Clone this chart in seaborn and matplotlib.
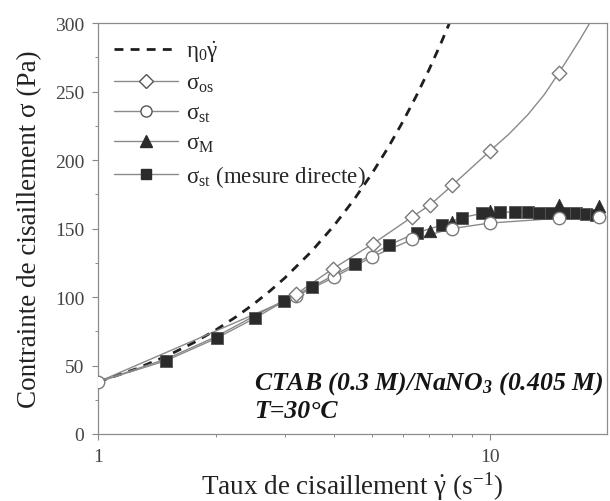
import numpy as np
import pandas as pd
import matplotlib
matplotlib.use("Agg")
import matplotlib.pyplot as plt
from matplotlib.lines import Line2D
from matplotlib.ticker import MultipleLocator, LogLocator, NullFormatter, FixedLocator
import seaborn as sns

# --- data ---
# eta0 * gamma_dot (Newtonian line, eta0 ~ 38 Pa.s)
newt_rate = [1, 1.25, 1.5, 1.75, 2, 2.25, 2.5, 2.75, 3, 3.5, 4, 4.5, 5, 5.5, 6, 6.5, 7, 7.5, 8]
newt_stress = [38, 47.5, 57, 66.5, 76, 85.5, 95, 104.5, 114, 133, 152, 171, 190, 209, 228, 247, 266, 285, 304]

# sigma_os (open diamonds) + smooth curve continuing to the top
os_rate = [3.2, 3.97, 5.04, 6.34, 7.06, 8.02, 10.0, 15.0]
os_stress = [102, 120.5, 139, 158.5, 167.5, 181.5, 206.5, 263.5]
os_curve_rate = [1, 1.5, 2, 2.5, 3.2, 3.97, 5.04, 6.34, 7.06, 8.02, 10.0, 11.2, 12.5, 13.8, 15.0, 16.0, 17.0, 18.0]
os_curve_stress = [38, 55, 71, 86, 102, 120.5, 139, 158.5, 167.5, 181.5, 206.5, 219, 233, 248, 263.5, 276, 288, 300]

# sigma_st (open circles)
st_rate = [1, 3.2, 4.01, 5.02, 6.34, 8.02, 10.0, 15.0, 19.0]
st_stress = [38, 100.5, 114.5, 129.5, 142, 150, 154, 157.5, 158.5]

# sigma_M (filled triangles)
m_rate = [7.03, 8.02, 10.0, 15.0, 19.0]
m_stress = [148, 155, 162.5, 167, 166.5]

# sigma_st, direct measurement (filled squares)
dir_rate = [1.49, 2.01, 2.51, 2.99, 3.52, 4.53, 5.53, 6.52, 7.55, 8.49, 9.54,
            10.6, 11.6, 12.5, 13.4, 14.3, 15.5, 16.6, 17.6, 18.7]
dir_stress = [53.5, 70, 84.5, 97, 107.5, 124, 138, 147, 152.5, 158, 161,
              162, 162, 162, 161.5, 161, 161, 161, 160.5, 160]

sns.set_style("ticks")
plt.rcParams['font.family'] = ['Liberation Serif', 'DejaVu Serif']
plt.rcParams['mathtext.fontset'] = 'custom'
plt.rcParams['mathtext.rm'] = 'Liberation Serif'
plt.rcParams['mathtext.it'] = 'Liberation Serif:italic'
plt.rcParams['mathtext.bf'] = 'Liberation Serif:bold:italic'
plt.rcParams['mathtext.default'] = 'regular'

fig = plt.figure(figsize=(6.10, 5.02), dpi=100)
ax = fig.add_axes([0.1607, 0.1335, 0.834, 0.8185])

line_col = '#8a8a8a'
mark_col = '#2b2b2b'
dash = (0, (3.2, 2.6))

sns.lineplot(x=newt_rate, y=newt_stress, ax=ax, color='#1e1e1e', lw=2.0,
             linestyle=dash, sort=False, estimator=None)
sns.lineplot(x=os_curve_rate, y=os_curve_stress, ax=ax, color=line_col, lw=1.0,
             sort=False, estimator=None)
sns.lineplot(x=st_rate, y=st_stress, ax=ax, color=line_col, lw=1.0,
             sort=False, estimator=None)
sns.lineplot(x=[1] + dir_rate, y=[38] + dir_stress, ax=ax, color=line_col, lw=1.0,
             sort=False, estimator=None)

sns.scatterplot(x=dir_rate, y=dir_stress, ax=ax, marker='s', s=70, color=mark_col,
                edgecolor='#555555', linewidth=0.6, zorder=4)
sns.scatterplot(x=m_rate, y=m_stress, ax=ax, marker='^', s=80, color=mark_col,
                edgecolor=mark_col, linewidth=0.6, zorder=5)
sns.scatterplot(x=st_rate, y=st_stress, ax=ax, marker='o', s=80, color='white',
                edgecolor='#7a7a7a', linewidth=1.0, zorder=6)
sns.scatterplot(x=os_rate, y=os_stress, ax=ax, marker='D', s=55, color='white',
                edgecolor='#7a7a7a', linewidth=1.0, zorder=7)

ax.set_xscale('log')
ax.set_xlim(1, 19.9)
ax.set_ylim(0, 300)

ax.xaxis.set_major_locator(FixedLocator([1, 10]))
ax.set_xticklabels(['1', '10'])
ax.xaxis.set_minor_locator(LogLocator(base=10, subs=np.arange(2, 10)))
ax.xaxis.set_minor_formatter(NullFormatter())
ax.yaxis.set_major_locator(MultipleLocator(50))
ax.yaxis.set_minor_locator(MultipleLocator(25))

ax.tick_params(which='major', length=4, width=0.8, color='#888888',
               labelsize=14, labelcolor='#444444', pad=6)
ax.tick_params(which='minor', length=2.5, width=0.7, color='#888888')
for sp in ax.spines.values():
    sp.set_visible(True)
    sp.set_color('#8c8c8c')
    sp.set_linewidth(0.9)

ax.set_xlabel(r'Taux de cisaillement $\dot{γ}$ (s$^{-1}$)', fontsize=19.5,
              color='#222222', labelpad=3)
ax.set_ylabel('Contrainte de cisaillement σ (Pa)', fontsize=19.5,
              color='#222222', labelpad=9)

ax.text(0.306, 0.11, r'CTAB (0.3 M)/NaNO$_\mathbf{3}$ (0.405 M)', transform=ax.transAxes,
        fontsize=18.5, fontweight='bold', fontstyle='italic', color='#151515')
ax.text(0.306, 0.041, 'T=30°C', transform=ax.transAxes,
        fontsize=18.5, fontweight='bold', fontstyle='italic', color='#151515')

handles = [
    Line2D([], [], color='#1e1e1e', lw=2.0, linestyle=dash),
    Line2D([], [], color=line_col, lw=1.0, marker='D', markersize=7,
           markerfacecolor='white', markeredgecolor='#555555'),
    Line2D([], [], color=line_col, lw=1.0, marker='o', markersize=8,
           markerfacecolor='white', markeredgecolor='#555555'),
    Line2D([], [], color=line_col, lw=1.0, marker='^', markersize=8,
           markerfacecolor=mark_col, markeredgecolor=mark_col),
    Line2D([], [], color=line_col, lw=1.0, marker='s', markersize=7.5,
           markerfacecolor=mark_col, markeredgecolor=mark_col),
]
labels = [r'$η_0\dot{γ}$', r'σ$_{\rm os}$', r'σ$_{\rm st}$',
          r'σ$_{\rm M}$', r'σ$_{\rm st}$ (mesure directe)']
ax.legend(handles, labels, loc='upper left', bbox_to_anchor=(0.0, 1.0),
          frameon=False, fontsize=16.5, handlelength=2.8, handletextpad=0.35,
          labelspacing=0.38, borderaxespad=0.3)

fig.savefig('out.png', dpi=100)
